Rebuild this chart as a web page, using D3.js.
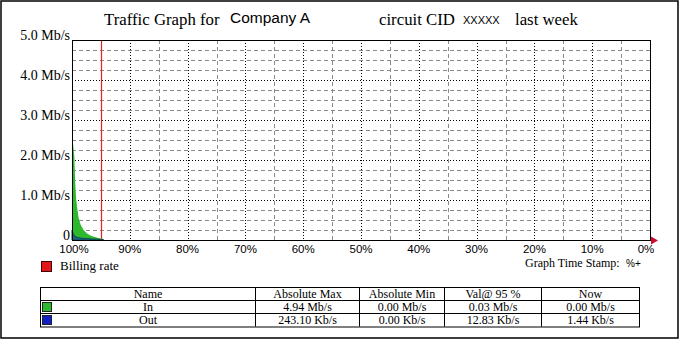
<!DOCTYPE html>
<html>
<head>
<meta charset="utf-8">
<script src="https://cdn.jsdelivr.net/npm/d3@7"></script>
<style>
  body { margin: 0; background: #fff; }
  svg { display: block; }
</style>
</head>
<body>
<svg id="chart" width="680" height="340"></svg>
<script>
// percentile ranking of traffic (100% = busiest sample), values in Mb/s
let inPct    = [100, 99.8, 99.6, 99.45, 99.3, 99.1, 98.85, 98.5, 98, 97.4, 96.8, 96.2, 95.6, 95, 94.5];
let inVals   = [2.40, 2.38, 2.10, 1.45, 1.05, 0.80, 0.55, 0.38, 0.25, 0.16, 0.11, 0.08, 0.055, 0.035, 0.02];
let outPct   = [100, 99.8, 99.5, 99, 98.3, 97.5, 96.5, 95.5, 95, 94.6];
let outVals  = [0.24, 0.16, 0.09, 0.06, 0.045, 0.035, 0.025, 0.018, 0.013, 0.01];

let billingRate = 95;
let yTicks = [0, 1, 2, 3, 4, 5];
let yTickLabels = ["0", "1.0 Mb/s", "2.0 Mb/s", "3.0 Mb/s", "4.0 Mb/s", "5.0 Mb/s"];
let xTicks = [100, 90, 80, 70, 60, 50, 40, 30, 20, 10, 0];

let tableHead = ["Name", "Absolute Max", "Absolute Min", "Val@ 95 %", "Now"];
let tableRows = [
    ["In", "4.94 Mb/s", "0.00 Mb/s", "0.03 Mb/s", "0.00 Mb/s"],
    ["Out", "243.10 Kb/s", "0.00 Kb/s", "12.83 Kb/s", "1.44 Kb/s"]
];
let seriesColors = ["#2db82d", "#1020c8"];

let svg = d3.select("#chart");
let serif = "'Liberation Serif', 'DejaVu Serif', serif";
let sans = "'Liberation Sans', Arial, sans-serif";

// outer frame
svg.append("rect")
    .attr("x", 1).attr("y", 1).attr("width", 677).attr("height", 337)
    .attr("fill", "#fff").attr("stroke", "#000").attr("stroke-width", 1.5);

// title
let title = svg.append("g");
title.append("text").attr("x", 104).attr("y", 25).attr("font-family", serif).attr("font-size", 16.8).text("Traffic Graph for");
title.append("text").attr("x", 230).attr("y", 23).attr("font-family", sans).attr("font-size", 15.5).text("Company A");
title.append("text").attr("x", 379).attr("y", 25).attr("font-family", serif).attr("font-size", 16.8).text("circuit CID");
title.append("text").attr("x", 463).attr("y", 24).attr("font-family", sans).attr("font-size", 11).text("XXXXX");
title.append("text").attr("x", 515).attr("y", 25).attr("font-family", serif).attr("font-size", 16.8).text("last week");

let x = d3.scaleLinear().domain([100, 0]).range([72, 650]);
let y = d3.scaleLinear().domain([0, 5]).range([240, 40]);

// grid
let grid = svg.append("g");
let minorY = d3.range(0, 5.01, 0.25).filter(v => v % 1 !== 0);
grid.selectAll(".hminor").data(minorY).enter().append("line")
    .attr("x1", x(100)).attr("x2", x(0))
    .attr("y1", d => Math.round(y(d)) + 0.5).attr("y2", d => Math.round(y(d)) + 0.5)
    .attr("stroke", "#8a8a8a").attr("stroke-dasharray", "4,3");
grid.selectAll(".vminor").data(d3.range(85, 0, -10)).enter().append("line")
    .attr("x1", d => Math.round(x(d)) + 0.5).attr("x2", d => Math.round(x(d)) + 0.5)
    .attr("y1", y(5)).attr("y2", y(0))
    .attr("stroke", "#8a8a8a").attr("stroke-dasharray", "4,3");
grid.selectAll(".hmajor").data(yTicks.slice(1, -1)).enter().append("line")
    .attr("x1", x(100)).attr("x2", x(0))
    .attr("y1", d => Math.round(y(d)) + 0.5).attr("y2", d => Math.round(y(d)) + 0.5)
    .attr("stroke", "#000").attr("stroke-dasharray", "1,2");
grid.selectAll(".vmajor").data(xTicks.slice(1, -1)).enter().append("line")
    .attr("x1", d => Math.round(x(d)) + 0.5).attr("x2", d => Math.round(x(d)) + 0.5)
    .attr("y1", y(5)).attr("y2", y(0))
    .attr("stroke", "#000").attr("stroke-dasharray", "1,2");

// billing rate line (sits on the 95% grid position)
svg.append("line")
    .attr("x1", Math.round(x(billingRate)) + 0.5).attr("x2", Math.round(x(billingRate)) + 0.5)
    .attr("y1", y(5)).attr("y2", y(0))
    .attr("stroke", "#e8201c").attr("stroke-width", 1.2);

// traffic areas
let inData = inPct.map((p, i) => [p, inVals[i]]);
let outData = outPct.map((p, i) => [p, outVals[i]]);
let area = d3.area().x(d => x(d[0])).y0(y(0)).y1(d => y(d[1]));
svg.append("path").datum(inData).attr("d", area).attr("fill", seriesColors[0]);
svg.append("path").datum(outData).attr("d", area)
    .attr("fill", seriesColors[1]).attr("fill-opacity", 0.55)
    .attr("stroke", "#0a4a50").attr("stroke-width", 1);

// plot frame
svg.append("rect")
    .attr("x", x(100) + 0.5).attr("y", y(5) + 0.5)
    .attr("width", x(0) - x(100)).attr("height", y(0) - y(5))
    .attr("fill", "none").attr("stroke", "#000");

// arrow at end of x axis
svg.append("path")
    .attr("d", d3.line()([[x(0) + 1, y(0) - 3.5], [x(0) + 8, y(0) + 0.5], [x(0) + 1, y(0) + 4.5]]))
    .attr("fill", "#c8102e");

// y labels
svg.selectAll(".ylab").data(yTicks).enter().append("text")
    .attr("x", 70).attr("y", d => y(d) - 0.5)
    .attr("text-anchor", "end")
    .attr("font-family", serif).attr("font-size", 14)
    .text((d, i) => yTickLabels[i]);

// x labels
svg.selectAll(".xlab").data(xTicks).enter().append("text")
    .attr("x", d => d === 0 ? x(d) - 4 : x(d) + (d === 100 ? 2 : 0)).attr("y", 253)
    .attr("text-anchor", "middle")
    .attr("font-family", sans).attr("font-size", 11.5)
    .text(d => d + "%");

// billing rate legend
svg.append("rect").attr("x", 41.5).attr("y", 261.5).attr("width", 10).attr("height", 10)
    .attr("fill", "#e01818").attr("stroke", "#400");
svg.append("text").attr("x", 60).attr("y", 270).attr("font-family", serif).attr("font-size", 13).text("Billing rate");

svg.append("text").attr("x", 525).attr("y", 267).attr("font-family", serif).attr("font-size", 12).text("Graph Time Stamp:");
svg.append("text").attr("x", 626).attr("y", 267).attr("font-family", sans).attr("font-size", 10).text("%+");

// summary table
let colEdges = [40, 255, 359, 444, 541, 639];
let rowEdges = [287, 300, 313, 326.5];
let table = svg.append("g");
table.append("rect")
    .attr("x", colEdges[0] + 0.5).attr("y", rowEdges[0] + 0.5)
    .attr("width", colEdges[5] - colEdges[0]).attr("height", rowEdges[3] - rowEdges[0])
    .attr("fill", "none").attr("stroke", "#000");
table.selectAll(".rowline").data(rowEdges.slice(1, -1)).enter().append("line")
    .attr("x1", colEdges[0]).attr("x2", colEdges[5])
    .attr("y1", d => d + 0.5).attr("y2", d => d + 0.5).attr("stroke", "#000");
table.selectAll(".colline").data(colEdges.slice(1, -1)).enter().append("line")
    .attr("x1", d => d + 0.5).attr("x2", d => d + 0.5)
    .attr("y1", rowEdges[0]).attr("y2", rowEdges[3]).attr("stroke", "#000");

let cells = [tableHead].concat(tableRows);
cells.forEach((row, r) => {
    table.selectAll(".c" + r).data(row).enter().append("text")
        .attr("x", (d, c) => (colEdges[c] + colEdges[c + 1]) / 2 + 0.5)
        .attr("y", rowEdges[r] + 10.5)
        .attr("text-anchor", "middle")
        .attr("font-family", serif).attr("font-size", 12)
        .text(d => d);
});
table.selectAll(".swatch").data(seriesColors).enter().append("rect")
    .attr("x", 42.5).attr("y", (d, i) => rowEdges[i + 1] + 2.5)
    .attr("width", 9).attr("height", 9)
    .attr("fill", d => d).attr("stroke", "#222");
</script>
</body>
</html>
